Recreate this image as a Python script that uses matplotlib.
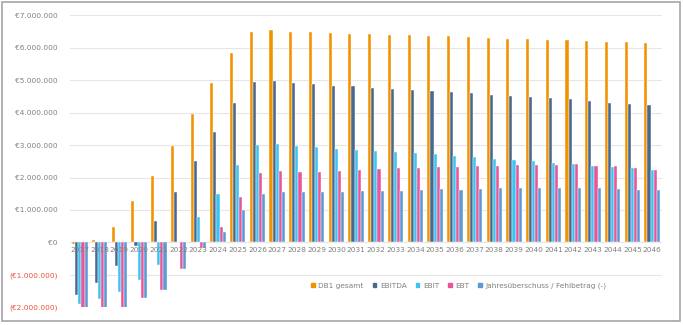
import matplotlib
matplotlib.use("Agg")
import matplotlib.pyplot as plt
import matplotlib.patches as mpatches
import numpy as np

years = [str(y) for y in range(2017, 2047)]

db1 = [-0.06, 0.08, 0.47, 1.28, 2.05, 2.98, 3.96, 4.92, 5.83, 6.49,
       6.54, 6.49, 6.47, 6.45, 6.43, 6.43, 6.40, 6.38, 6.37, 6.35,
       6.32, 6.30, 6.27, 6.28, 6.25, 6.23, 6.21, 6.19, 6.17, 6.15]
ebitda = [-1.63, -1.24, -0.73, -0.12, 0.67, 1.56, 2.51, 3.39, 4.29, 4.94,
          4.97, 4.92, 4.88, 4.83, 4.81, 4.76, 4.73, 4.69, 4.67, 4.64,
          4.59, 4.54, 4.51, 4.47, 4.45, 4.41, 4.36, 4.31, 4.26, 4.22]
ebit = [-1.90, -1.73, -1.53, -1.16, -0.70, 0.02, 0.77, 1.49, 2.38, 3.01,
        3.04, 2.98, 2.93, 2.88, 2.86, 2.81, 2.79, 2.75, 2.71, 2.67,
        2.62, 2.57, 2.54, 2.50, 2.45, 2.42, 2.37, 2.33, 2.28, 2.23]
ebt = [-2.05, -2.05, -2.05, -1.71, -1.47, -0.81, -0.16, 0.49, 1.41, 2.15,
       2.21, 2.18, 2.18, 2.21, 2.24, 2.26, 2.28, 2.28, 2.32, 2.32,
       2.35, 2.37, 2.39, 2.39, 2.39, 2.42, 2.37, 2.35, 2.30, 2.24]
jahres = [-2.05, -2.05, -2.05, -1.71, -1.47, -0.81, -0.16, 0.31, 0.99, 1.50,
          1.55, 1.55, 1.55, 1.55, 1.57, 1.60, 1.60, 1.62, 1.65, 1.63,
          1.65, 1.67, 1.69, 1.69, 1.69, 1.69, 1.67, 1.65, 1.63, 1.61]

series_names = ["DB1 gesamt", "EBITDA", "EBIT", "EBT", "Jahresüberschuss / Fehlbetrag (-)"]
series_values = [db1, ebitda, ebit, ebt, jahres]
colors = ["#F39200", "#48698E", "#3EC3F0", "#E8559A", "#5B9BD5"]

yticks = [-2e6, -1e6, 0, 1e6, 2e6, 3e6, 4e6, 5e6, 6e6, 7e6]
ytick_labels = ["(€2.000.000)", "(€1.000.000)", "€0", "€1.000.000", "€2.000.000",
                "€3.000.000", "€4.000.000", "€5.000.000", "€6.000.000", "€7.000.000"]

plt.rcParams['font.family'] = ['DejaVu Sans']
fs = 5.3

fig = plt.figure(figsize=(6.83, 3.25), dpi=100)
ax = fig.add_axes([70/683, (325-307.3)/325, 592/683, 292/325])

x = np.arange(len(years))
w = 0.157
for k, (name, vals, c) in enumerate(zip(series_names, series_values, colors)):
    ax.bar(x + (k - 2) * w, np.array(vals) * 1e6, width=w, color=c,
           edgecolor="white", linewidth=0.3, label=name, zorder=2)

ax.set_xlim(-0.5, len(years) - 0.5)
ax.set_ylim(-2e6, 7e6)
ax.set_yticks(yticks)
ax.set_yticklabels(ytick_labels, fontsize=fs)
for lab, v in zip(ax.get_yticklabels(), yticks):
    lab.set_color("#E8553A" if v < 0 else "#808080")
ax.tick_params(axis='y', length=0, pad=9)
ax.set_xticks([])
ax.grid(axis='y', color="#E6E6E6", linewidth=0.8, zorder=0)
ax.set_axisbelow(True)
for s in ax.spines.values():
    s.set_visible(False)

for i, yl in enumerate(years):
    ax.annotate(yl, xy=(i, 0), xytext=(0, -3.5), textcoords='offset points',
                ha='center', va='top', fontsize=fs, color="#808080", zorder=3)

handles = [mpatches.Patch(color=c) for c in colors]
fig.legend(handles, series_names, loc='center', bbox_to_anchor=(459/683, 1 - 286/325),
           ncol=5, frameon=False, fontsize=fs, handlelength=0.5, handleheight=0.5,
           handletextpad=0.5, columnspacing=1.2, labelcolor="#808080")

fig.patches.append(mpatches.Rectangle((2/683, 4/325), 678/683, 319/325,
                                      transform=fig.transFigure, fill=False,
                                      edgecolor="#A6A6A6", linewidth=1.2))

fig.savefig("out.png", dpi=100)
